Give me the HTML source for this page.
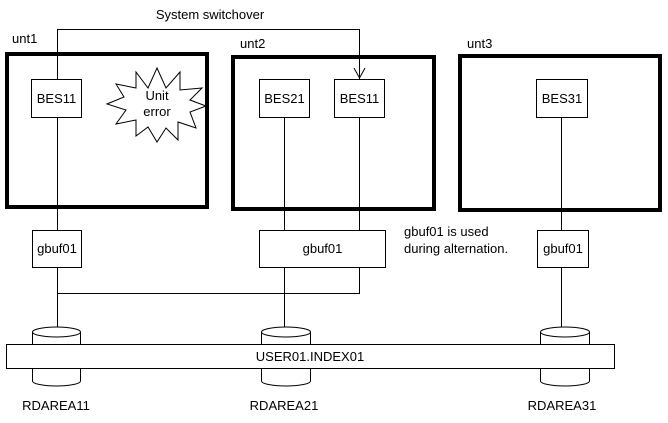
<!DOCTYPE html>
<html><head><meta charset="utf-8"><style>
html,body{margin:0;padding:0;background:#fff;}
svg{display:block;}
text{font-family:"Liberation Sans",sans-serif;font-size:13px;fill:#000;}
</style></head><body>
<svg width="668" height="423" viewBox="0 0 668 423" xmlns="http://www.w3.org/2000/svg">
<g fill="none" stroke="#000" stroke-width="1">
<polyline points="57.5,79 57.5,29.5 359.5,29.5 359.5,79"/>
<polyline points="354,68 359.5,78 365,68"/>
</g>
<g fill="none" stroke="#000" stroke-width="4">
<rect x="7" y="54" width="200" height="153"/>
<rect x="233" y="57" width="201" height="152"/>
<rect x="460" y="56" width="200" height="154"/>
</g>
<g fill="#fff" stroke="#000" stroke-width="1">
<rect x="31.5" y="79.5" width="50" height="38"/>
<rect x="259.5" y="79.5" width="50" height="38"/>
<rect x="334.5" y="79.5" width="50" height="38"/>
<rect x="536.5" y="79.5" width="51" height="38"/>
<polygon points="157,68 166,88 180,72 180,90 202,88 190,100 206,106 190,112 196,128 178,122 178,140 166,128 157,142 148,127 136,136 136,120 116,124 126,110 107,104 124,97 116,84 136,88 136,72 148,88"/>
</g>
<g stroke="#000" stroke-width="1">
<line x1="57.5" y1="117" x2="57.5" y2="230"/>
<line x1="284.5" y1="117" x2="284.5" y2="230"/>
<line x1="359.5" y1="117" x2="359.5" y2="230"/>
<line x1="561.5" y1="117" x2="561.5" y2="230"/>
<line x1="57.5" y1="268" x2="57.5" y2="330"/>
<line x1="284.5" y1="268" x2="284.5" y2="330"/>
<line x1="561.5" y1="268" x2="561.5" y2="330"/>
<polyline fill="none" points="57.5,293.5 359.5,293.5 359.5,268"/>
</g>
<g fill="#fff" stroke="#000" stroke-width="1">
<rect x="32.5" y="230.5" width="49" height="37"/>
<rect x="259.5" y="230.5" width="126" height="37"/>
<rect x="537.5" y="230.5" width="51" height="37"/>
<path d="M32.5,332 L32.5,381 A24,5 0 0 0 80.5,381 L80.5,332"/>
<ellipse cx="56.5" cy="332" rx="24" ry="5"/>
<path d="M261.5,332 L261.5,381 A24.5,5 0 0 0 310.5,381 L310.5,332"/>
<ellipse cx="286" cy="332" rx="24.5" ry="5"/>
<path d="M540.5,332 L540.5,381 A24.5,5 0 0 0 589.5,381 L589.5,332"/>
<ellipse cx="565" cy="332" rx="24.5" ry="5"/>
<rect x="6.5" y="344.5" width="608" height="24"/>
</g>
<text x="210" y="19" text-anchor="middle">System switchover</text>
<text x="12" y="43">unt1</text>
<text x="240" y="48">unt2</text>
<text x="467" y="48">unt3</text>
<text x="56.5" y="103" text-anchor="middle">BES11</text>
<text x="284.5" y="103" text-anchor="middle">BES21</text>
<text x="359.5" y="103" text-anchor="middle">BES11</text>
<text x="562" y="103" text-anchor="middle">BES31</text>
<text x="157" y="100" text-anchor="middle">Unit</text>
<text x="157" y="116" text-anchor="middle">error</text>
<text x="57" y="253" text-anchor="middle">gbuf01</text>
<text x="322.5" y="253" text-anchor="middle">gbuf01</text>
<text x="563" y="253" text-anchor="middle">gbuf01</text>
<text x="404" y="236">gbuf01 is used</text>
<text x="404" y="253">during alternation.</text>
<text x="310" y="361" text-anchor="middle">USER01.INDEX01</text>
<text x="56" y="410" text-anchor="middle" font-size="11">RDAREA11</text>
<text x="284" y="410" text-anchor="middle" font-size="11">RDAREA21</text>
<text x="562" y="410" text-anchor="middle" font-size="11">RDAREA31</text>
</svg>
</body></html>
